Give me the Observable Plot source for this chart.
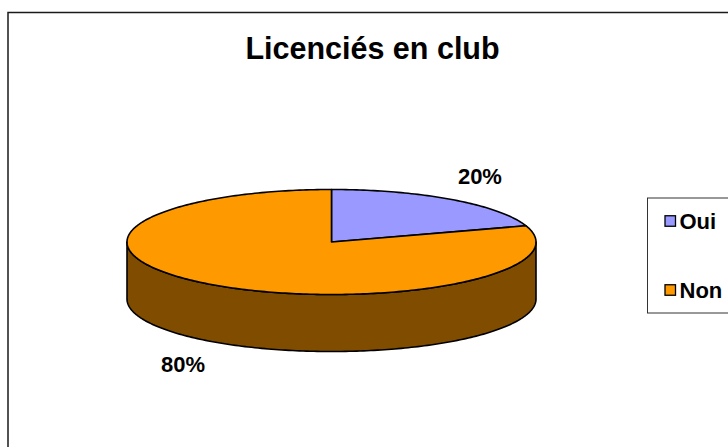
<!DOCTYPE html>
<html>
<head>
<meta charset="utf-8">
<script src="https://cdn.jsdelivr.net/npm/d3@7"></script>
<script src="https://cdn.jsdelivr.net/npm/@observablehq/plot@0.6"></script>
<style>
  html, body { margin: 0; padding: 0; background: #fff; overflow: hidden; }
</style>
</head>
<body>
<div id="chart"></div>
<script>
// ---- data ----
const title = "Licenciés en club";
const categories = ["Oui", "Non"];
const values = [20, 80];
const sliceColors = ["#9999FF", "#FF9900"];
const sideColors = ["#4C4C99", "#7F4C00"];
const pctLabels = ["20%", "80%"];

// ---- geometry of the 3D pie ----
const W = 728, H = 447;
const cx = 331, cy = 241.5, rx = 204.5, ry = 52.5, depth = 57;
const total = d3.sum(values);
const pt = (t, dy = 0) => ({x: cx + rx * Math.sin(t), y: cy - ry * Math.cos(t) + dy});

let acc = 0;
const slices = values.map((v, i) => {
  const a0 = acc / total * 2 * Math.PI;
  acc += v;
  const a1 = acc / total * 2 * Math.PI;
  return {i, a0, a1};
});

function arc(a0, a1, dy = 0) {
  const n = Math.max(2, Math.ceil((a1 - a0) / (Math.PI / 180)));
  return d3.range(n + 1).map(k => pt(a0 + (a1 - a0) * k / n, dy));
}

// side walls (visible front half: from 3 o'clock to 9 o'clock)
const sidePts = [];
slices.forEach(s => {
  const s0 = Math.max(s.a0, Math.PI / 2), s1 = Math.min(s.a1, 3 * Math.PI / 2);
  if (s1 > s0) {
    const ring = [...arc(s0, s1), ...arc(s0, s1, depth).reverse()];
    ring.push(ring[0]);
    ring.forEach(p => sidePts.push({...p, id: "side" + s.i, fill: sideColors[s.i]}));
  }
});

// top faces
const topPts = [];
slices.forEach(s => {
  const ring = [{x: cx, y: cy}, ...arc(s.a0, s.a1), {x: cx, y: cy}];
  ring.forEach(p => topPts.push({...p, id: "top" + s.i, fill: sliceColors[s.i]}));
});

// percentage labels, placed radially outside
const labelData = slices.map(s => {
  const m = (s.a0 + s.a1) / 2;
  return {
    text: pctLabels[s.i],
    x: cx + (rx + 48) * Math.sin(m),
    y: cy - (ry + 28.5) * Math.cos(m) + (Math.cos(m) < 0 ? depth : 0)
  };
});

// legend
const legend = categories.map((c, i) => ({c, color: sliceColors[i], y: 221 + i * 69}));

const font = "'Liberation Sans', Arial, sans-serif";

const chart = Plot.plot({
  width: W, height: H,
  margin: 0,
  x: {domain: [0, W], range: [0, W], axis: null},
  y: {domain: [0, H], range: [0, H], axis: null},
  color: {type: "identity"},
  style: {fontFamily: font, background: "#fff", overflow: "hidden"},
  marks: [
    // outer chart border
    Plot.rect([0], {x1: 8, x2: W + 20, y1: 12.5, y2: H + 20, fill: "none", stroke: "#1a1a1a", strokeWidth: 1.5}),
    // title
    Plot.text([title], {x: 372, y: 49, text: d => d, fontSize: 30.5, fontWeight: "bold", fill: "#000"}),
    // pie sides
    Plot.line(sidePts, {x: "x", y: "y", z: "id", fill: "fill", stroke: "#000", strokeWidth: 1.6, strokeLinejoin: "round"}),
    // pie tops
    Plot.line(topPts, {x: "x", y: "y", z: "id", fill: "fill", stroke: "#000", strokeWidth: 1.6, strokeLinejoin: "round"}),
    // pct labels
    Plot.text(labelData, {x: "x", y: "y", text: "text", fontSize: 22, fontWeight: "bold", fill: "#000"}),
    // legend box
    Plot.rect([0], {x1: 647.5, x2: W + 20, y1: 198, y2: 313, fill: "#fff", stroke: "#333", strokeWidth: 1}),
    Plot.rect(legend, {x1: 665, x2: 675.5, y1: d => d.y - 5.25, y2: d => d.y + 5.25, fill: "color", stroke: "#000", strokeWidth: 1.3}),
    Plot.text(legend, {x: 679, y: "y", text: "c", textAnchor: "start", fontSize: 22, fontWeight: "bold", fill: "#000"})
  ]
});
document.getElementById("chart").appendChild(chart);
</script>
</body>
</html>
